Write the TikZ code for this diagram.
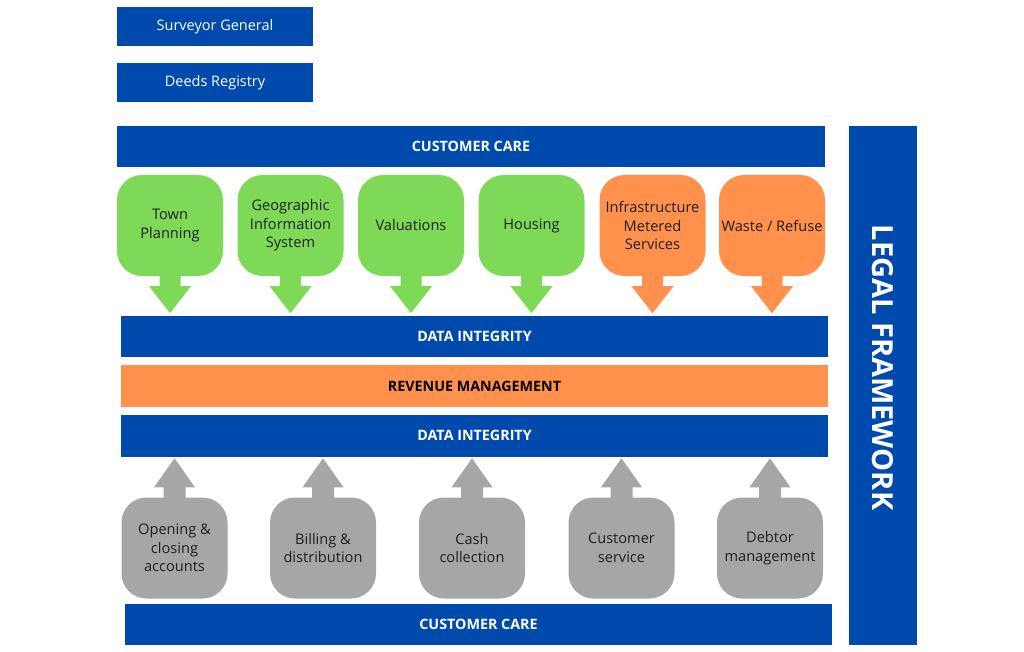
\documentclass[tikz,border=0pt]{standalone}
\usepackage{fontspec}
\setmainfont{Open Sans}
\definecolor{cblue}{HTML}{004AAD}
\definecolor{corange}{HTML}{FF914D}
\definecolor{cgreen}{HTML}{7ED957}
\definecolor{cgrey}{HTML}{A6A6A6}
\definecolor{ctext}{HTML}{1F1F1F}
\tikzset{
  bar/.style={fill=cblue, text=white, inner sep=0pt, font=\fontsize{14.3}{16}\selectfont\bfseries},
  topbox/.style={fill=cblue, text=white, inner sep=0pt, minimum width=196pt, minimum height=39pt, font=\fontsize{14.5}{16}\selectfont},
  callout/.style={rounded corners=25pt, inner sep=0pt, minimum width=106pt, minimum height=101pt, align=center, text=ctext, font=\fontsize{14.6}{18.5}\selectfont},
}
\begin{document}
\begin{tikzpicture}[x=1pt,y=-1pt]
\useasboundingbox (0,0) rectangle (1024,652);
% top boxes
\node[topbox] (sg) at (215,27) {Surveyor General};
\node[topbox] (dr) at (215,83) {Deeds Registry};
% bars
\node[bar, minimum width=708pt, minimum height=41pt] (cc1) at (471,146.5) {CUSTOMER CARE};
\node[bar, minimum width=707pt, minimum height=41pt] (di1) at (474.5,336) {DATA INTEGRITY};
\node[bar, fill=corange, text=black, minimum width=707pt, minimum height=42pt] (rm) at (474.5,386) {REVENUE MANAGEMENT};
\node[bar, minimum width=707pt, minimum height=42pt] (di2) at (474.5,435.5) {DATA INTEGRITY};
\node[bar, minimum width=707pt, minimum height=41pt] (cc2) at (478.5,624) {CUSTOMER CARE};
\node[fill=cblue, inner sep=0pt, minimum width=68pt, minimum height=519pt] (lf) at (883,385.5) {};
\node[text=white, rotate=-90, font=\fontsize{29}{30}\selectfont\bfseries] (lft) at (883,367.5) {LEGAL FRAMEWORK};
% top callouts
\foreach \n/\x/\c/\t in {g1/170/cgreen/{Town\\Planning}, g2/290.5/cgreen/{Geographic\\Information\\System}, g3/411/cgreen/{Valuations}, g4/531.5/cgreen/{Housing}, g5/652.5/corange/{Infrastructure\\Metered\\Services}, g6/772/corange/{Waste / Refuse}}{
  \node[callout, fill=\c] (\n) at (\x,225.5) {\t};
  \fill[\c] (\n.south) ++(-10.5,-1) -- ++(0,11) -- ++(-10.5,0) -- ++(21,27) -- ++(21,-27) -- ++(-10.5,0) -- ++(0,-11) -- cycle;
}
% bottom callouts
\foreach \n/\x/\t in {b1/174.5/{Opening \&\\closing\\accounts}, b2/323/{Billing \&\\distribution}, b3/472/{Cash\\collection}, b4/621.5/{Customer\\service}, b5/770/{Debtor\\management}}{
  \node[callout, fill=cgrey] (\n) at (\x,548) {\t};
  \fill[cgrey] (\n.north) ++(-11,1) -- ++(0,-11) -- ++(-9.5,0) -- ++(20.5,-29) -- ++(20.5,29) -- ++(-9.5,0) -- ++(0,11) -- cycle;
}
\end{tikzpicture}
\end{document}
